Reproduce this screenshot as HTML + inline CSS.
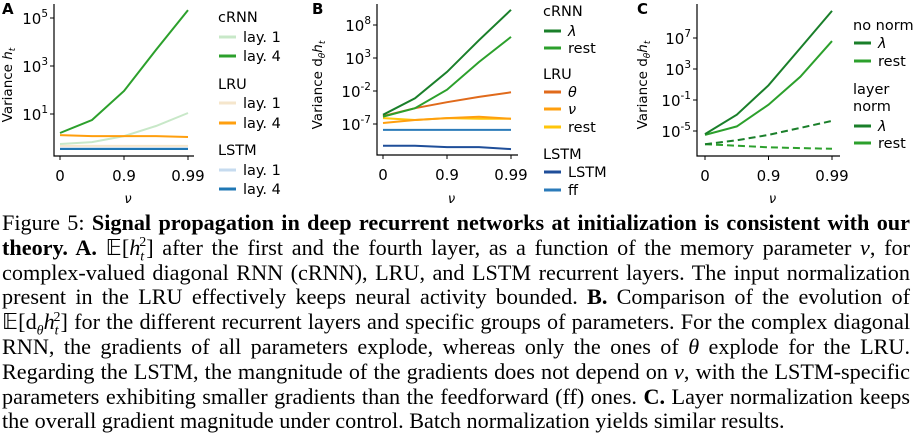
<!DOCTYPE html>
<html><head><meta charset="utf-8"><style>
body{margin:0;width:914px;height:442px;background:#fff;overflow:hidden;font-family:"DejaVu Sans",sans-serif}
#cap{position:absolute;left:2px;top:211px;width:908px;font-family:"Liberation Serif",serif;font-size:22.2px;line-height:24.8px;color:#000}
#cap div{text-align:justify;text-align-last:justify;white-space:nowrap;height:24.8px}
#cap div.last{text-align-last:left}
#cap sub,#cap sup{line-height:0;font-size:14px}
svg text{font-family:"DejaVu Sans",sans-serif}
</style></head><body>
<svg id="fig" width="914" height="205" style="position:absolute;left:0;top:0"></svg>
<div id="cap">
<div>Figure 5: <b>Signal propagation in deep recurrent networks at initialization is consistent with our</b></div>
<div><b>theory. A.</b> 𝔼[<i>h</i><sub><i>t</i></sub><sup style="margin-left:-5px">2</sup>] after the first and the fourth layer, as a function of the memory parameter <i>ν</i>, for</div>
<div>complex-valued diagonal RNN (cRNN), LRU, and LSTM recurrent layers. The input normalization</div>
<div>present in the LRU effectively keeps neural activity bounded. <b>B.</b> Comparison of the evolution of</div>
<div>𝔼[d<sub><i>θ</i></sub><i>h</i><sub><i>t</i></sub><sup style="margin-left:-5px">2</sup>] for the different recurrent layers and specific groups of parameters. For the complex diagonal</div>
<div>RNN, the gradients of all parameters explode, whereas only the ones of <i>θ</i> explode for the LRU.</div>
<div>Regarding the LSTM, the mangnitude of the gradients does not depend on <i>ν</i>, with the LSTM-specific</div>
<div>parameters exhibiting smaller gradients than the feedforward (ff) ones. <b>C.</b> Layer normalization keeps</div>
<div class="last">the overall gradient magnitude under control. Batch normalization yields similar results.</div>
</div>
<script>
// x categories (memory parameter nu, 5 evaluation points)
const xCats = ["0", "", "0.9", "", "0.99"];
// Panel A: log10 variance of h_t
const aCrnn1 = [-0.25, -0.17, 0.08, 0.5, 1.04];
const aCrnn4 = [0.21, 0.75, 1.96, 3.67, 5.33];
const aLru1 = [-0.33, -0.33, -0.33, -0.33, -0.33];
const aLru4 = [0.12, 0.08, 0.08, 0.08, 0.04];
const aLstm1 = [-0.42, -0.42, -0.42, -0.42, -0.42];
const aLstm4 = [-0.46, -0.46, -0.46, -0.46, -0.46];
const aTicks = [1, 3, 5];
// Panel B: log10 variance of d_theta h_t
const bCrnnL = [-5.6, -3.1, 0.9, 5.7, 10.3];
const bCrnnR = [-5.9, -4.6, -1.8, 2.4, 6.2];
const bLruTheta = [-5.8, -4.6, -3.7, -2.9, -2.2];
const bLruNu = [-6.85, -6.4, -6.1, -5.9, -6.2];
const bLruRest = [-6.1, -6.4, -6.1, -6.2, -6.2];
const bLstmFf = [-7.9, -7.9, -7.9, -7.9, -7.9];
const bLstmL = [-10.3, -10.3, -10.5, -10.5, -10.8];
const bTicks = [-7, -2, 3, 8];
// Panel C
const cNoL = [-5.4, -2.9, 0.9, 5.7, 10.5];
const cNoR = [-5.5, -4.4, -1.6, 2.0, 6.6];
const cLnL = [-6.7, -6.2, -5.5, -4.6, -3.7];
const cLnR = [-6.7, -6.9, -7.1, -7.2, -7.3];
const cTicks = [-5, -1, 3, 7];

const NS = "http://www.w3.org/2000/svg";
const svg = document.getElementById("fig");
function mk(tag, attrs, parent) {
  const e = document.createElementNS(NS, tag);
  for (const k in attrs) e.setAttribute(k, attrs[k]);
  (parent || svg).appendChild(e);
  return e;
}
function panel(cfg) {
  const g = mk("g", {});
  
  
  const xs = i => cfg.x0 + i * (cfg.x1 - cfg.x0) / (xCats.length - 1);
  const ys = v => cfg.yRef - cfg.ppd * (v - cfg.vRef);
  const ax = mk("path", {d: `M${cfg.axL} ${cfg.axT} V${cfg.axB} H${cfg.axR}`, stroke: "#000", "stroke-width": 1.2, fill: "none"}, g);
  
  
  xCats.forEach((c, i) => {
    if (!c) return;
    mk("line", {x1: xs(i), x2: xs(i), y1: cfg.axB, y2: cfg.axB + 4, stroke: "#000"}, g);
    const t = mk("text", {x: xs(i), y: cfg.axB + 25, "font-size": 15, "text-anchor": "middle"}, g);
    t.textContent = c;
    
    
  });
  cfg.ticks.forEach(v => {
    mk("line", {x1: cfg.axL - 4, x2: cfg.axL, y1: ys(v), y2: ys(v), stroke: "#000"}, g);
    const t = mk("text", {x: cfg.axL - 6, y: ys(v) + 6, "font-size": 15, "text-anchor": "end"}, g);
    t.innerHTML = "10<tspan dy='-7' font-size='10.5'>" + v + "</tspan>";
    
    
  });
  const xl = mk("text", {x: (cfg.axL + cfg.axR) / 2 + 4, y: 203, "font-size": 13, "font-style": "italic", "text-anchor": "middle"}, g);
  xl.textContent = "ν";
  
  
  const yl = mk("text", {transform: `translate(${cfg.ylx},85) rotate(-90)`, "font-size": 13.5, "text-anchor": "middle"}, g);
  yl.innerHTML = cfg.ylab;
  
  
  const pl = mk("text", {x: cfg.labX, y: 14, "font-size": 15, "font-weight": "bold"}, g);
  pl.textContent = cfg.letter;
  
  
  cfg.series.forEach(s => {
    const d = s.data.map((v, i) => (i ? "L" : "M") + xs(i).toFixed(1) + " " + ys(v).toFixed(1)).join(" ");
    const p = mk("path", {d, stroke: s.color, "stroke-width": 2, fill: "none", "stroke-dasharray": s.dash || "none"}, g);
    
    
  });
  cfg.legend.forEach(it => {
    if (it.head) {
      const t = mk("text", {x: cfg.legX, y: it.y, "font-size": 14.5}, g);
      t.textContent = it.head;
      
      
    } else {
      const l = mk("line", {x1: cfg.legX + 1, x2: cfg.legX + 18, y1: it.y - 5, y2: it.y - 5, stroke: it.color, "stroke-width": 3}, g);
      
      
      const t = mk("text", {x: cfg.legX + 25, y: it.y, "font-size": 14.5, "font-style": it.it ? "italic" : "normal"}, g);
      t.textContent = it.label;
      
      
    }
  });
}
const G1 = "#2ca02c", GD = "#1a7f2a", GL = "#c8e8c8";
panel({name: "panel-a", letter: "A", labX: 2, x0: 60, x1: 188, axL: 54, axR: 194, axT: 4, axB: 156,
  yRef: 114, vRef: 1, ppd: 24, ticks: aTicks, ylx: 12, ylab: "Variance <tspan font-style='italic'>h</tspan><tspan font-size='9' dy='3' font-style='italic'>t</tspan>",
  series: [
    {id: "lstm-1", data: aLstm1, color: "#c6dbef"}, {id: "lru-1", data: aLru1, color: "#f5e6cc"},
    {id: "crnn-1", data: aCrnn1, color: GL}, {id: "lstm-4", data: aLstm4, color: "#1f77b4"},
    {id: "lru-4", data: aLru4, color: "#ff9f0e"}, {id: "crnn-4", data: aCrnn4, color: G1}],
  legX: 218, legend: [{head: "cRNN", y: 22}, {label: "lay. 1", color: GL, y: 42}, {label: "lay. 4", color: G1, y: 61},
    {head: "LRU", y: 89}, {label: "lay. 1", color: "#f5e6cc", y: 108}, {label: "lay. 4", color: "#ff9f0e", y: 128},
    {head: "LSTM", y: 155}, {label: "lay. 1", color: "#c6dbef", y: 175}, {label: "lay. 4", color: "#1f77b4", y: 194}]
});
panel({name: "panel-b", letter: "B", labX: 312, x0: 383, x1: 511, axL: 377, axR: 518, axT: 4, axB: 155,
  yRef: 124, vRef: -7, ppd: 6.6, ticks: bTicks, ylx: 322, ylab: "Variance d<tspan font-size='9' dy='3' font-style='italic'>θ</tspan><tspan dy='-3' font-style='italic'>h</tspan><tspan font-size='9' dy='3' font-style='italic'>t</tspan>",
  series: [
    {id: "lstm", data: bLstmL, color: "#1f4e99"}, {id: "ff", data: bLstmFf, color: "#2b7bba"},
    {id: "lru-rest", data: bLruRest, color: "#ffc60a"}, {id: "lru-nu", data: bLruNu, color: "#ff9f0e"},
    {id: "lru-theta", data: bLruTheta, color: "#e06a1b"}, {id: "crnn-rest", data: bCrnnR, color: G1},
    {id: "crnn-lambda", data: bCrnnL, color: GD}],
  legX: 543, legend: [{head: "cRNN", y: 16}, {label: "λ", it: 1, color: GD, y: 36}, {label: "rest", color: G1, y: 53},
    {head: "LRU", y: 79}, {label: "θ", it: 1, color: "#e06a1b", y: 97}, {label: "ν", it: 1, color: "#ff9f0e", y: 114}, {label: "rest", color: "#ffc60a", y: 132},
    {head: "LSTM", y: 159}, {label: "LSTM", color: "#1f4e99", y: 177}, {label: "ff", color: "#2b7bba", y: 195}]
});
panel({name: "panel-c", letter: "C", labX: 637, x0: 705, x1: 832, axL: 697, axR: 840, axT: 4, axB: 156,
  yRef: 131, vRef: -5, ppd: 7.75, ticks: cTicks, ylx: 647, ylab: "Variance d<tspan font-size='9' dy='3' font-style='italic'>θ</tspan><tspan dy='-3' font-style='italic'>h</tspan><tspan font-size='9' dy='3' font-style='italic'>t</tspan>",
  series: [
    {id: "ln-rest", data: cLnR, color: G1, dash: "7 4"}, {id: "ln-lambda", data: cLnL, color: GD, dash: "7 4"},
    {id: "nonorm-rest", data: cNoR, color: G1}, {id: "nonorm-lambda", data: cNoL, color: GD}],
  legX: 853, legend: [{head: "no norm", y: 30}, {label: "λ", it: 1, color: GD, y: 48}, {label: "rest", color: G1, y: 66},
    {head: "layer", y: 94}, {head: "norm", y: 111}, {label: "λ", it: 1, color: GD, y: 131}, {label: "rest", color: G1, y: 148}]
});
</script>
</body></html>
